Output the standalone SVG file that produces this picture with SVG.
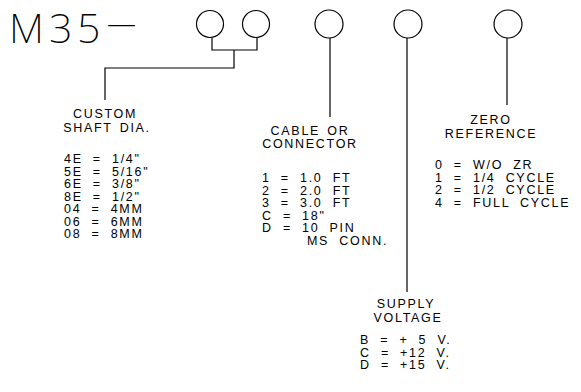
<svg xmlns="http://www.w3.org/2000/svg" width="581" height="392" viewBox="0 0 581 392">
<style>
.bg{fill:#fff}
.ln{fill:none;stroke:#000;stroke-width:1.2}
.c{fill:#fff;stroke:#000;stroke-width:1.2}
.t{font-family:"Liberation Sans",Arial,sans-serif;font-size:12.5px;fill:#000;letter-spacing:1.7px;word-spacing:5px}
.h{word-spacing:2px}
.m{text-anchor:middle}
.big{font-family:"Noto Sans","DejaVu Sans",sans-serif;font-weight:200;font-size:41px;fill:#000}
</style>
<rect class="bg" x="0" y="0" width="581" height="392"/>
<g id="title"><text class="big" y="43"><tspan x="9">M</tspan><tspan x="49">3</tspan><tspan x="77">5</tspan><tspan x="107" dy="-9" font-size="29">—</tspan></text></g>
<g id="connectors">
<path class="ln" d="M212,38 V50 H257 V38 M234,50 V68 H105 V100"/>
<path class="ln" d="M330,38 V117"/>
<path class="ln" d="M407,38 V292"/>
<path class="ln" d="M507,38 V105"/>
</g>
<g id="digit1"><circle class="c" cx="210" cy="24" r="13.5"/></g>
<g id="digit2"><circle class="c" cx="256" cy="24" r="13.5"/></g>
<g id="digit3"><circle class="c" cx="329" cy="24" r="14"/></g>
<g id="digit4"><circle class="c" cx="408" cy="24" r="14"/></g>
<g id="digit5"><circle class="c" cx="508" cy="24" r="14"/></g>
<g id="shaft">
<text class="t h m" x="105" y="118">CUSTOM</text>
<text class="t h m" x="107" y="132">SHAFT DIA.</text>
<text class="t" x="64" y="163">4E = 1/4"</text>
<text class="t" x="64" y="175.5">5E = 5/16"</text>
<text class="t" x="64" y="188">6E = 3/8"</text>
<text class="t" x="64" y="200.5">8E = 1/2"</text>
<text class="t" x="64" y="213">04 = 4MM</text>
<text class="t" x="64" y="225.5">06 = 6MM</text>
<text class="t" x="64" y="238">08 = 8MM</text>
</g>
<g id="cable">
<text class="t h m" x="310" y="135">CABLE OR</text>
<text class="t h m" x="310" y="148">CONNECTOR</text>
<text class="t" x="262" y="182">1 = 1.0 FT</text>
<text class="t" x="262" y="194.5">2 = 2.0 FT</text>
<text class="t" x="262" y="207">3 = 3.0 FT</text>
<text class="t" x="262" y="219.5">C = 18"</text>
<text class="t" x="262" y="232">D = 10 PIN</text>
<text class="t" x="307" y="244.5">MS CONN.</text>
</g>
<g id="zero">
<text class="t h m" x="491" y="124">ZERO</text>
<text class="t h m" x="491" y="138">REFERENCE</text>
<text class="t" x="435" y="169">0 = W/O ZR</text>
<text class="t" x="435" y="181.5">1 = 1/4 CYCLE</text>
<text class="t" x="435" y="194">2 = 1/2 CYCLE</text>
<text class="t" x="435" y="206.5">4 = FULL CYCLE</text>
</g>
<g id="supply">
<text class="t h m" x="406" y="308">SUPPLY</text>
<text class="t h m" x="408" y="322">VOLTAGE</text>
<text class="t" x="360" y="344">B = + 5 V.</text>
<text class="t" x="360" y="356.5">C = +12 V.</text>
<text class="t" x="360" y="369">D = +15 V.</text>
</g>
</svg>
